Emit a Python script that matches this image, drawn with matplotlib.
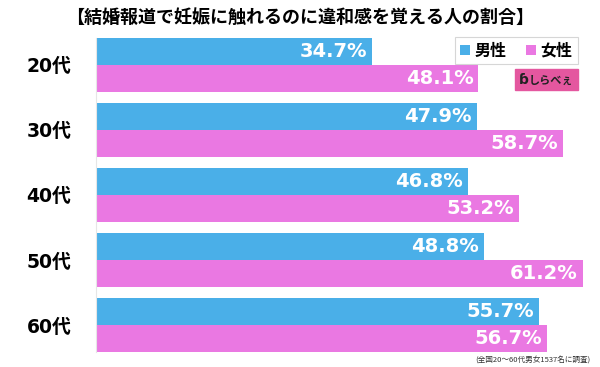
import matplotlib
matplotlib.use("Agg")
import matplotlib.pyplot as plt
from matplotlib.patches import Rectangle

plt.rcParams['font.family'] = ['Noto Sans CJK JP', 'DejaVu Sans']

# data
ages = ['20代', '30代', '40代', '50代', '60代']
male = [34.7, 47.9, 46.8, 48.8, 55.7]
female = [48.1, 58.7, 53.2, 61.2, 56.7]
title = '【結婚報道で妊娠に触れるのに違和感を覚える人の割合】'
note = '(全国20～60代男女1537名に調査)'

blue = '#4aafe8'
pink = '#ea78e2'
bar_h = 0.415
num_font = ['DejaVu Sans', 'Noto Sans CJK JP']

fig = plt.figure(figsize=(6, 3.67), dpi=100)
ax = fig.add_axes([96 / 600, 1 - 352 / 367, 504 / 600, 314 / 367])

ys = list(range(len(ages)))
ax.barh([y - bar_h / 2 for y in ys], male, height=bar_h, color=blue)
ax.barh([y + bar_h / 2 for y in ys], female, height=bar_h, color=pink)

for y, m, f in zip(ys, male, female):
    ax.text(m - 0.6, y - bar_h / 2, f'{m}%', ha='right', va='center',
            color='white', fontsize=14, fontweight='bold', family=num_font)
    ax.text(f - 0.6, y + bar_h / 2, f'{f}%', ha='right', va='center',
            color='white', fontsize=14, fontweight='bold', family=num_font)

ax.set_xlim(0, 63.4)
ax.set_ylim(len(ages) - 1 + bar_h, -bar_h)
ax.set_yticks(ys)
ax.set_yticklabels(ages, fontsize=13.5, fontweight='bold', family=num_font)
ax.tick_params(axis='y', length=0, pad=34)
for lbl in ax.get_yticklabels():
    lbl.set_horizontalalignment('center')
ax.set_xticks([])
for s in ['top', 'right', 'bottom']:
    ax.spines[s].set_visible(False)
ax.spines['left'].set_color('#e6e6e6')

fig.text(0.5, 1 - 17 / 367, title, ha='center', va='center',
         fontsize=13, fontweight='bold')

# legend
leg = ax.legend(['男性', '女性'], loc='upper right',
                bbox_to_anchor=(578 / 600, 1 - 37 / 367),
                bbox_transform=fig.transFigure,
                ncol=2, frameon=True, fancybox=False, fontsize=11.5,
                handlelength=0.6, handleheight=0.6, handletextpad=0.3,
                columnspacing=1.2, borderpad=0.35, borderaxespad=0)
leg.get_frame().set_edgecolor('#cccccc')
leg.get_frame().set_linewidth(0.8)
for t in leg.get_texts():
    t.set_fontweight('bold')

# logo
fig.patches.append(Rectangle((515 / 600, 1 - 90 / 367), 63 / 600, 21 / 367,
                             transform=fig.transFigure, color='#e4579f'))
fig.text(551 / 600, 1 - 80 / 367, 'しらべぇ', ha='center', va='center',
         fontsize=8, fontweight='bold', color='#222222')
fig.text(524 / 600, 1 - 80 / 367, 'ɓ', ha='center', va='center',
         fontsize=10, fontweight='bold', color='#222222', family='DejaVu Sans')

fig.text(590 / 600, 1 - 360 / 367, note, ha='right', va='center', fontsize=5.5,
         color='#333333')

fig.savefig('out.png', dpi=100)
